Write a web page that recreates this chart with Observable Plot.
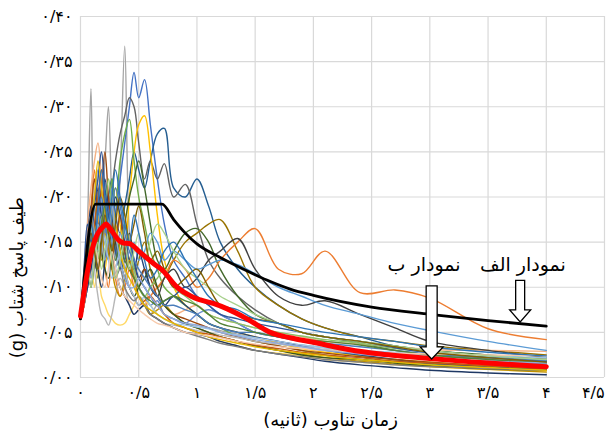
<!DOCTYPE html>
<html><head><meta charset="utf-8">
<script src="https://cdn.jsdelivr.net/npm/d3@7"></script>
<script src="https://cdn.jsdelivr.net/npm/@observablehq/plot@0.6"></script>
<style>
body{margin:0;background:#fff;}
#chart svg{font-family:"DejaVu Sans",sans-serif;}
</style></head><body><div id="chart"></div>
<script>
// Periods (s) shared by the individual record spectra
const periods = [0,.03,.06,.09,.12, .15,.18,.21,.24,.27, .3,.34,.38,.42,.46, .5,.55,.6,.66,.72, .8,.9,1,1.1,1.2, 1.35,1.5,1.7,1.9,2.1, 2.4,2.7,3,3.5,4];

// Spectral accelerations (g) of each record
const s01 = [.065,.09,.17,.32,.15, .18,.20,.24,.30,.19, .13,.22,.367,.16,.12, .10,.09,.07,.08,.07, .065,.06,.058,.055,.052, .048,.044,.04,.036,.033, .029,.026,.024,.021,.019];
const s02 = [.065,.08,.10,.12,.14, .16,.15,.17,.19,.16, .18,.22,.26,.30,.338, .31,.33,.28,.22,.17, .13,.11,.09,.08,.07, .06,.05,.045,.04,.035, .03,.025,.02,.016,.013];
const s03 = [.065,.09,.12,.15,.13, .16,.19,.17,.20,.22, .18,.16,.19,.22,.25, .23,.21,.24,.27,.276, .21,.20,.22,.19,.15, .12,.10,.08,.065,.055, .045,.035,.03,.024,.02];
const s04 = [.065,.08,.11,.14,.12, .15,.17,.16,.19,.21, .24,.27,.29,.31,.30, .26,.22,.24,.22,.237, .20,.214,.17,.13,.11, .09,.075,.06,.05,.045, .038,.03,.025,.02,.016];
const s05 = [.065,.09,.13,.11,.15, .18,.14,.12,.16,.19, .21,.17,.14,.20,.25, .28,.29,.25,.18,.13, .10,.08,.07,.06,.055, .05,.045,.038,.032,.028, .024,.02,.017,.013,.01];
const s06 = [.065,.10,.14,.12,.16, .13,.17,.20,.18,.22, .19,.24,.27,.286,.24, .20,.17,.14,.12,.10, .09,.08,.07,.06,.055, .045,.04,.035,.03,.025, .02,.018,.015,.012,.009];
const s07 = [.065,.09,.12,.16,.14, .11,.15,.18,.14,.12, .16,.14,.17,.20,.22, .24,.21,.17,.13,.12, .14,.16,.165,.15,.12, .09,.07,.06,.05,.045, .04,.035,.03,.025,.02];
const s08 = [.065,.10,.13,.15,.17, .14,.16,.13,.15,.18, .14,.12,.15,.13,.11, .13,.15,.12,.10,.11, .13,.15,.16,.17,.175, .14,.10,.08,.065,.055, .045,.04,.035,.03,.025];
const s09 = [.065,.11,.16,.19,.23, .17,.14,.12,.10,.13, .11,.09,.10,.12,.10, .09,.08,.09,.10,.11, .13,.12,.10,.11,.13, .15,.165,.12,.115,.14, .094,.097,.088,.054,.042];
const s10 = [.065,.12,.17,.21,.24, .26,.22,.17,.20,.15, .13,.16,.12,.10,.12, .09,.08,.10,.09,.08, .07,.075,.08,.07,.065, .06,.055,.05,.045,.04, .037,.034,.031,.03,.029];
const s11 = [.065,.09,.12,.14,.12, .16,.18,.15,.13,.17, .15,.12,.14,.16,.13, .11,.12,.10,.09,.11, .12,.10,.11,.13,.14, .154,.12,.09,.08,.085, .07,.055,.04,.03,.022];
const s12 = [.065,.10,.14,.12,.17, .19,.16,.14,.18,.15, .13,.16,.14,.12,.15, .13,.14,.16,.15,.13, .14,.13,.12,.125,.13, .125,.115,.10,.09,.08, .07,.06,.052,.04,.03];
const s13 = [.065,.11,.15,.19,.16, .21,.18,.22,.19,.17, .20,.18,.15,.13,.12, .14,.12,.10,.09,.08, .09,.08,.07,.06,.055, .05,.045,.04,.035,.03, .025,.02,.016,.012,.009];
const s14 = [.065,.09,.13,.17,.20, .23,.19,.16,.18,.21, .16,.13,.12,.14,.11, .10,.09,.08,.085,.07, .065,.06,.07,.075,.07, .06,.05,.045,.04,.035, .03,.026,.022,.018,.015];
const s15 = [.065,.08,.11,.13,.10, .12,.09,.08,.07,.065, .06,.058,.06,.07,.08, .09,.085,.08,.07,.065, .06,.055,.05,.045,.04, .035,.03,.027,.024,.02, .017,.014,.012,.009,.007];
const s16 = [.065,.10,.14,.18,.22, .18,.21,.25,.20,.17, .15,.18,.14,.12,.11, .10,.12,.11,.09,.08, .07,.065,.06,.055,.05, .045,.04,.035,.03,.027, .023,.02,.017,.013,.01];
const s17 = [.065,.09,.13,.16,.12, .09,.07,.065,.058,.07, .09,.11,.10,.08,.07, .075,.08,.07,.065,.06, .058,.055,.052,.05,.047, .044,.04,.037,.034,.031, .028,.026,.024,.022,.02];
const s18 = [.065,.10,.13,.15,.19, .16,.14,.18,.22,.19, .16,.14,.17,.15,.12, .10,.09,.10,.11,.12, .10,.09,.08,.07,.065, .06,.055,.05,.046,.042, .038,.032,.028,.022,.018];
const s19 = [.065,.08,.11,.14,.17, .15,.13,.16,.14,.12, .10,.09,.11,.13,.11, .09,.08,.07,.075,.08, .07,.06,.055,.05,.045, .04,.035,.03,.026,.022, .018,.015,.012,.009,.006];
const s20 = [.065,.12,.17,.15,.19, .22,.25,.21,.18,.16, .14,.12,.13,.15,.13, .11,.10,.09,.08,.085, .09,.10,.09,.08,.07, .065,.06,.055,.05,.045, .04,.033,.027,.022,.018];
const s21 = [.065,.09,.12,.10,.13, .16,.14,.12,.11,.13, .15,.13,.11,.10,.09, .10,.11,.12,.10,.08, .07,.06,.055,.05,.045, .04,.035,.03,.025,.022, .02,.016,.013,.01,.008];
const s22 = [.065,.10,.15,.13,.17, .20,.23,.19,.15,.13, .17,.14,.12,.10,.09, .08,.085,.09,.08,.07, .06,.055,.05,.048,.045, .04,.036,.032,.028,.025, .022,.018,.016,.013,.01];
const s23 = [.065,.08,.10,.12,.14, .12,.10,.13,.16,.14, .12,.10,.09,.08,.07, .075,.08,.07,.065,.06, .055,.05,.048,.045,.04, .035,.03,.026,.022,.018, .014,.011,.008,.005,.003];
const s24 = [.065,.11,.15,.18,.16, .14,.17,.15,.13,.11, .12,.14,.12,.10,.09, .08,.09,.08,.07,.065, .06,.058,.056,.054,.05, .047,.044,.04,.036,.033, .03,.028,.026,.024,.022];
const s25 = [.065,.09,.14,.18,.15, .12,.14,.17,.15,.13, .11,.12,.10,.09,.085, .09,.08,.07,.065,.06, .055,.05,.046,.042,.038, .034,.03,.026,.023,.02, .017,.014,.012,.01,.008];
const s26 = [.065,.10,.14,.17,.20, .24,.21,.18,.16,.19, .17,.14,.12,.11,.10, .09,.08,.075,.07,.065, .06,.055,.05,.045,.042, .038,.034,.03,.027,.024, .02,.017,.014,.011,.008];
const s27 = [.065,.09,.13,.16,.14, .18,.20,.17,.15,.18, .21,.19,.16,.14,.13, .12,.11,.10,.09,.08, .08,.075,.07,.06,.055, .05,.05,.045,.04,.038, .034,.03,.026,.022,.019];
const s28 = [.065,.10,.12,.14,.13, .15,.17,.19,.16,.14, .13,.15,.13,.12,.11, .10,.09,.085,.08,.085, .09,.085,.08,.07,.06, .055,.05,.045,.042,.04, .036,.03,.025,.02,.016];
const s29 = [.065,.08,.11,.13,.15, .13,.11,.10,.12,.14, .12,.10,.09,.085,.08, .075,.07,.065,.06,.058, .055,.05,.048,.046,.044, .04,.037,.034,.032,.03, .028,.027,.026,.025,.024];
const s30 = [.065,.10,.13,.11,.14, .17,.15,.13,.16,.19, .16,.13,.11,.10,.10, .11,.10,.09,.08,.07, .065,.06,.058,.055,.05, .046,.042,.038,.034,.03, .026,.023,.02,.018,.016];
const s31 = [.065,.09,.12,.10,.13, .15,.12,.14,.16,.13, .11,.13,.15,.12,.14, .16,.13,.15,.17,.16, .14,.12,.11,.10,.09, .08,.07,.06,.05,.045, .04,.035,.03,.024,.02];
const s32 = [.065,.10,.13,.16,.14, .12,.15,.18,.16,.14, .17,.20,.18,.15,.17, .19,.16,.13,.14,.12, .10,.11,.12,.10,.08, .07,.065,.06,.05,.045, .04,.034,.028,.022,.017];
const s33 = [.065,.10,.14,.17,.15, .19,.23,.20,.17,.20, .23,.20,.17,.15,.18, .16,.13,.11,.12,.14, .15,.13,.11,.09,.08, .075,.065,.06,.055,.05, .045,.04,.034,.028,.024];

const records = [s01,s02,s03,s04,s05,s06,s07,s08,s09,s10,s11,s12,s13,s14,s15,s16,s17,s18,s19,s20,s21,s22,s23,s24,s25,s26,s27,s28,s29,s30,s31,s32,s33];
const recordColors = ["#a5a5a5","#4472c4","#255e91","#636363","#ffc000","#70ad47","#43682b","#997300","#ed7d31","#f4b183","#404040","#5b9bd5","#264478","#698ed0","#ffd966","#9e480e","#b7b7b7","#8cc168","#bf9000","#2f5597","#375623","#c55a11","#1f3864","#9dc3e6","#7f7f7f","#e6b800","#4a7ebb","#548235","#f8cbad","#8faadc","#a9d18e","#7f6000","#2e75b6"];

// Curve "الف" (design spectrum) and curve "ب" (mean spectrum)
const designT  = [0,0.13,0.7,0.8,0.9,1.0,1.2,1.4,1.6,1.8,2.0,2.5,3.0,3.5,4.0];
const designSa = [.065,.192,.192,.175,.160,.148,.133,.120,.108,.098,.091,.078,.070,.063,.057];
const meanT  = [0,0.05,0.1,0.15,0.2,0.22,0.27,0.33,0.37,0.43,0.5,0.63,0.71,0.83,0.95,1.03,1.14,1.26,1.43,1.63,1.8,2.0,2.3,2.58,3.0,3.5,4.0];
const meanSa = [.068,.11,.142,.16,.168,.17,.162,.152,.149,.148,.14,.126,.118,.10,.09,.086,.082,.076,.065,.05,.044,.039,.031,.026,.021,.016,.012];

// Ticks
const xTicks = [0,0.5,1,1.5,2,2.5,3,3.5,4,4.5];
const xTickLabels = ["۰","۰/۵","۱","۱/۵","۲","۲/۵","۳","۳/۵","۴","۴/۵"];
const yTicks = [0,0.05,0.1,0.15,0.2,0.25,0.3,0.35,0.4];
const yTickLabels = ["۰/۰۰","۰/۰۵","۰/۱۰","۰/۱۵","۰/۲۰","۰/۲۵","۰/۳۰","۰/۳۵","۰/۴۰"];
const xTitle = "زمان تناوب (ثانیه)";
const yTitle = "طیف پاسخ شتاب (g)";

// Annotations
const annoLabels = ["نمودار الف","نمودار ب"];
const annoX = [3.8, 2.95];
const annoY = [0.125, 0.125];
const arrowX = [3.78, 3.02];
const arrowTop = [0.107, 0.101];
const arrowTip = [0.061, 0.020];

const recordRows = records.flatMap((s, k) => s.map((v, i) => ({T: periods[i], Sa: v, id: k})));
const designRows = designT.map((t, i) => ({T: t, Sa: designSa[i]}));
const meanRows = meanT.map((t, i) => ({T: t, Sa: meanSa[i]}));

const plot = Plot.plot({
  width: 606, height: 441,
  marginTop: 16, marginBottom: 64, marginLeft: 80, marginRight: 2,
  x: {domain: [0, 4.5]},
  y: {domain: [0, 0.4]},
  style: {fontFamily: "DejaVu Sans, sans-serif", fontSize: "16px", background: "#fff", color: "#000"},
  marks: [
    Plot.gridX(xTicks, {stroke: "#d9d9d9", strokeOpacity: 1, strokeWidth: 1.2}),
    Plot.gridY(yTicks, {stroke: "#d9d9d9", strokeOpacity: 1, strokeWidth: 1.2}),
    Plot.axisX(xTicks, {tickSize: 0, tickPadding: 9, label: null, fontSize: 16, tickFormat: d => xTickLabels[xTicks.indexOf(d)]}),
    Plot.axisY(yTicks, {tickSize: 0, tickPadding: 8, label: null, fontSize: 16, tickFormat: d => yTickLabels[yTicks.indexOf(d)]}),
    Plot.line(recordRows, {x: "T", y: "Sa", z: "id", stroke: d => recordColors[d.id], strokeWidth: 1.4, curve: "catmull-rom"}),
    Plot.line(designRows, {x: "T", y: "Sa", stroke: "#000", strokeWidth: 2.8, curve: "monotone-x"}),
    Plot.line(meanRows, {x: "T", y: "Sa", stroke: "#ff0000", strokeWidth: 5, curve: "catmull-rom"}),
    Plot.text(annoLabels, {x: (d, i) => annoX[i], y: (d, i) => annoY[i], text: d => d, fontSize: 19}),
    Plot.text([xTitle], {frameAnchor: "bottom", dy: 48, dx: -12, text: d => d, fontSize: 18}),
    Plot.text([yTitle], {frameAnchor: "left", dx: -63, rotate: -90, text: d => d, fontSize: 18})
  ]
});

const xs = plot.scale("x"), ys = plot.scale("y");
const shaftHalf = [4.5, 5.5], headHalf = [10.5, 11.5], headLen = [12, 12];
const arrows = d3.select(plot).append("g");
arrowX.forEach((ax, i) => {
  const cx = xs.apply(ax), top = ys.apply(arrowTop[i]), tip = ys.apply(arrowTip[i]);
  const hw = shaftHalf[i], hh = headHalf[i], hl = headLen[i];
  const pts = [[cx-hw,top],[cx+hw,top],[cx+hw,tip-hl],[cx+hh,tip-hl],[cx,tip],[cx-hh,tip-hl],[cx-hw,tip-hl]];
  arrows.append("polygon").attr("points", pts.map(p => p.join(",")).join(" "))
    .attr("fill", "#fff").attr("stroke", "#000").attr("stroke-width", 1.3).attr("stroke-linejoin", "miter");
});
d3.select(plot).selectAll("text").each(function() {
  if (/[\u0600-\u06EF]/.test(this.textContent)) this.setAttribute("direction", "rtl");
  if (this.textContent === xTickLabels[xTickLabels.length - 1]) this.setAttribute("text-anchor", "end");
});
document.getElementById("chart").appendChild(plot);
</script>
</body></html>
